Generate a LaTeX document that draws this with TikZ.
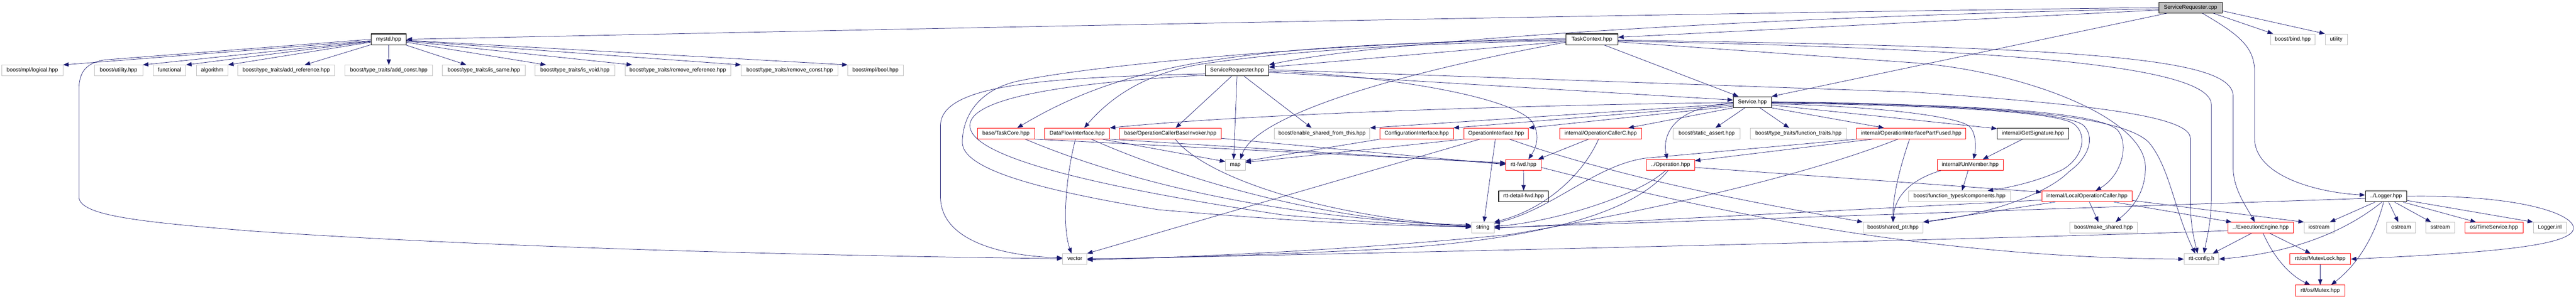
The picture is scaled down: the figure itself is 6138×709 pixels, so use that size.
\documentclass[tikz,border=0pt]{standalone}
\usepackage{fontspec}
\setmainfont{Liberation Sans}
\usetikzlibrary{arrows.meta}
\definecolor{edgec}{HTML}{191970}
\definecolor{grayb}{HTML}{BFBFBF}
\definecolor{redb}{HTML}{FF0000}
\begin{document}
\begin{tikzpicture}[x=1pt,y=-1pt,
 nb/.style={rectangle, minimum height=26pt, inner xsep=0pt, inner ysep=0pt, text height=9.4pt, text depth=2.8pt, font=\fontsize{13pt}{15pt}\selectfont, fill=white},
 gb/.style={nb, draw=grayb, line width=1pt},
 rb/.style={nb, draw=redb, line width=1pt},
 bb/.style={nb, draw=black, line width=1.4pt},
 rootb/.style={bb, fill=grayb},
 conn/.style={draw=edgec, line width=0.9pt, -{Triangle[length=13pt,width=10pt]}}]
\fill[white] (0,0) rectangle (6138,709);
\useasboundingbox (0,0) rectangle (6138,709);
% Row A
\node[rootb, minimum width=151pt] (src) at (5219.5,18) {ServiceRequester.cpp};
% Row B
\node[bb, minimum width=84pt] (mystd) at (926,94) {mystd.hpp};
\node[bb, minimum width=124pt] (tc) at (3793,94) {TaskContext.hpp};
\node[gb, minimum width=106pt] (bind) at (5463,94) {boost/bind.hpp};
\node[gb, minimum width=53pt] (utility) at (5566.5,94) {utility};
% Row C
\node[gb, minimum width=146pt] (logical) at (77,168.5) {boost/mpl/logical.hpp};
\node[gb, minimum width=115pt] (butil) at (282.5,168.5) {boost/utility.hpp};
\node[gb, minimum width=78pt] (functional) at (404,168.5) {functional};
\node[gb, minimum width=75pt] (algorithm) at (505.5,168.5) {algorithm};
\node[gb, minimum width=230pt] (addref) at (682,168.5) {boost/type\_traits/add\_reference.hpp};
\node[gb, minimum width=209pt] (addconst) at (926.5,168.5) {boost/type\_traits/add\_const.hpp};
\node[gb, minimum width=198pt] (issame) at (1153,168.5) {boost/type\_traits/is\_same.hpp};
\node[gb, minimum width=190pt] (isvoid) at (1370,168.5) {boost/type\_traits/is\_void.hpp};
\node[gb, minimum width=252pt] (remref) at (1615,168.5) {boost/type\_traits/remove\_reference.hpp};
\node[gb, minimum width=231pt] (remconst) at (1881.5,168.5) {boost/type\_traits/remove\_const.hpp};
\node[gb, minimum width=132pt] (mplbool) at (2086,168.5) {boost/mpl/bool.hpp};
\node[bb, minimum width=151pt] (sreqh) at (2947.5,168.5) {ServiceRequester.hpp};
% Row D
\node[bb, minimum width=91pt] (service) at (4175.5,244) {Service.hpp};
% Row E
\node[rb, minimum width=136pt] (taskcore) at (2397,319) {base/TaskCore.hpp};
\node[rb, minimum width=155pt] (dfi) at (2566.5,319) {DataFlowInterface.hpp};
\node[rb, minimum width=243pt] (ocbi) at (2788.5,319) {base/OperationCallerBaseInvoker.hpp};
\node[gb, minimum width=228pt] (esft) at (3150,319) {boost/enable\_shared\_from\_this.hpp};
\node[rb, minimum width=175pt] (confi) at (3375.5,319) {ConfigurationInterface.hpp};
\node[rb, minimum width=154pt] (opi) at (3565,319) {OperationInterface.hpp};
\node[rb, minimum width=194pt] (occ) at (3814,319) {internal/OperationCallerC.hpp};
\node[gb, minimum width=159pt] (sassert) at (4066.5,319) {boost/static\_assert.hpp};
\node[gb, minimum width=230pt] (ftraits) at (4285,319) {boost/type\_traits/function\_traits.hpp};
\node[rb, minimum width=260pt] (oipf) at (4554,319) {internal/OperationInterfacePartFused.hpp};
\node[bb, minimum width=170pt] (getsig) at (4844,319) {internal/GetSignature.hpp};
% Row F
\node[gb, minimum width=47pt] (map) at (2943.5,394) {map};
\node[rb, minimum width=84pt] (rttfwd) at (3630,394) {rtt-fwd.hpp};
\node[rb, minimum width=115pt] (operation) at (3980.5,394) {../Operation.hpp};
\node[rb, minimum width=157pt] (unmember) at (4694.5,394) {internal/UnMember.hpp};
% Row G
\node[bb, minimum width=119pt] (detailfwd) at (3630.5,469) {rtt-detail-fwd.hpp};
\node[gb, minimum width=242pt] (ftcomp) at (4669,469) {boost/function\_types/components.hpp};
\node[rb, minimum width=215pt] (loc) at (4972.5,469) {internal/LocalOperationCaller.hpp};
\node[bb, minimum width=99pt] (logger) at (5685.5,469) {../Logger.hpp};
% Row H
\node[gb, minimum width=54pt] (string) at (3533,544) {string};
\node[gb, minimum width=143pt] (sptr) at (4510.5,544) {boost/shared\_ptr.hpp};
\node[gb, minimum width=160pt] (mkshared) at (5012,544) {boost/make\_shared.hpp};
\node[rb, minimum width=157pt] (ee) at (5386.5,544) {../ExecutionEngine.hpp};
\node[gb, minimum width=71pt] (iostream) at (5525.5,544) {iostream};
\node[gb, minimum width=69pt] (ostream) at (5721.5,544) {ostream};
\node[gb, minimum width=69pt] (sstream) at (5814.5,544) {sstream};
\node[rb, minimum width=139pt] (timesvc) at (5942.5,544) {os/TimeService.hpp};
\node[gb, minimum width=79pt] (loggerinl) at (6075.5,544) {Logger.inl};
% Row I
\node[gb, minimum width=58pt] (vector) at (2561,619) {vector};
\node[gb, minimum width=83pt] (rttconfig) at (5245.5,619) {rtt-config.h};
\node[rb, minimum width=145pt] (mutexlock) at (5528.5,619) {rtt/os/MutexLock.hpp};
% Row J
\node[rb, minimum width=117pt] (mutex) at (5528.5,694) {rtt/os/Mutex.hpp};

% ---- mystd
\draw[conn] (mystd) -- (logical.north east);
\draw[conn] (mystd) -- (butil.north east);
\draw[conn] (mystd) -- (functional.north east);
\draw[conn] (mystd) -- (algorithm.north east);
\draw[conn] (mystd) -- ([xshift=44pt]addref.north);
\draw[conn] (mystd) -- (addconst.north);
\draw[conn] (mystd) -- ([xshift=-42pt]issame.north);
\draw[conn] (mystd) -- ([xshift=-69pt]isvoid.north);
\draw[conn] (mystd) -- ([xshift=-109pt]remref.north);
\draw[conn] (mystd) -- (remconst.north west);
\draw[conn] (mystd) -- (mplbool.north west);
\draw[conn] (mystd.west) -- (250,143) .. controls (205,150) and (188,172) .. (188,215) -- (188,470) .. controls (188,515) and (330,530) .. (600,552) .. controls (1300,600) and (2200,614) .. ([yshift=1pt]vector.west);

% ---- src
\draw[conn] (src.west) .. controls (4000,32) and (2500,62) .. (mystd.east);
\draw[conn] ([yshift=-6pt]src.west) -- ([yshift=5pt]tc.east);
\draw[conn] ([yshift=-3pt]src.west) .. controls (4200,40) and (3300,95) .. (sreqh.north east);
\draw[conn] ([xshift=20pt]src.south west) -- (service.north east);
\draw[conn] ([xshift=-22pt]src.south east) -- ([xshift=-47pt]bind.north);
\draw[conn] ([yshift=-8pt]src.east) -- (utility.north west);
\draw[conn] ([xshift=-48pt]src.south east) .. controls (5330,80) and (5372,110) .. (5372,170) -- (5372,330) .. controls (5372,420) and (5520,460) .. ([yshift=3pt]logger.west);

% ---- tc
\draw[conn] ([yshift=-5pt]tc.west) -- ([yshift=8pt]sreqh.east);
\draw[conn] ([xshift=-33pt]tc.south east) -- ([xshift=13pt]service.north west);
\draw[conn] ([yshift=-1pt]tc.west) .. controls (3000,105) and (2700,140) .. ([xshift=27pt]taskcore.north);
\draw[conn] ([yshift=-3pt]tc.west) .. controls (3300,105) and (3060,125) .. (2870,152) .. controls (2720,175) and (2640,240) .. ([xshift=17pt]dfi.north);
\draw[conn] ([yshift=-7pt]tc.west) .. controls (3300,180) and (2990,280) .. ([xshift=12pt]map.north);
\draw[conn] ([yshift=2pt]tc.west) .. controls (3200,100) and (2600,155) .. (2420,195) .. controls (2320,220) and (2293,290) .. (2293,340) .. controls (2293,400) and (2450,450) .. (2760,501) .. controls (3100,530) and (3300,540) .. ([yshift=3pt]string.west);
\draw[conn] ([yshift=-2pt]tc.east) .. controls (5000,112) and (5321,140) .. (5321,230) -- (5321,400) .. controls (5321,450) and (5350,490) .. ([xshift=-14pt]ee.north);
\draw[conn] ([yshift=-4pt]tc.east) .. controls (4700,115) and (5269,150) .. (5269,250) -- (5269,475) .. controls (5269,530) and (5258,570) .. ([xshift=6pt]rttconfig.north);
\draw[conn] ([yshift=-6pt]tc.east) -- (4560,150) .. controls (4820,170) and (5112,280) .. (5112,400) .. controls (5112,470) and (5070,505) .. ([xshift=29pt]mkshared.north);

% ---- sreqh
\draw[conn] ([xshift=-13pt]sreqh.south) -- ([xshift=13pt]ocbi.north);
\draw[conn] (sreqh.south) -- ([xshift=-4pt]map.north);
\draw[conn] ([xshift=17pt]sreqh.south) -- ([xshift=-25pt]esft.north);
\draw[conn] ([yshift=-1pt]sreqh.east) .. controls (3300,180) and (3600,230) .. (3650,290) .. controls (3670,320) and (3662,350) .. ([xshift=12pt]rttfwd.north);
\draw[conn] ([yshift=-4pt]sreqh.east) -- ([yshift=5pt]service.west);
\draw[conn] ([yshift=2pt]sreqh.east) -- (4560,220) .. controls (4900,245) and (5219,270) .. (5219,330) -- (5219,480) .. controls (5219,540) and (5230,580) .. ([xshift=-9pt]rttconfig.north);
\draw[conn] ([yshift=-8pt]sreqh.west) .. controls (2500,185) and (2241,200) .. (2241,300) -- (2241,470) .. controls (2241,580) and (2400,612) .. ([yshift=3pt]vector.west);
\draw[conn] ([yshift=-11pt]sreqh.west) .. controls (2500,200) and (2311,240) .. (2311,300) .. controls (2311,360) and (2500,430) .. (3060,514) .. controls (3300,535) and (3450,540) .. ([yshift=1pt]string.west);

% ---- service
\draw[conn] ([yshift=-1pt]service.west) .. controls (3700,250) and (3000,270) .. (dfi.north east);
\draw[conn] ([yshift=-4pt]service.west) -- (esft.north east);
\draw[conn] ([yshift=-7pt]service.west) -- (confi.north east);
\draw[conn] ([yshift=-10pt]service.west) -- (opi.north east);
\draw[conn] (service.south west) -- ([xshift=66pt]occ.north);
\draw[conn] ([yshift=-2pt]service.west) .. controls (3990,255) and (3960,320) .. ([xshift=-8pt]operation.north);
\draw[conn] ([xshift=-18pt]service.south) -- ([xshift=21pt]sassert.north);
\draw[conn] ([xshift=18pt]service.south) -- ([xshift=-22pt]ftraits.north);
\draw[conn] (service.south east) -- ([xshift=-65pt]oipf.north);
\draw[conn] ([yshift=-7pt]service.east) -- ([yshift=-2pt]getsig.north west);
\draw[conn] ([yshift=-4pt]service.east) .. controls (4500,255) and (4660,280) .. (4690,300) .. controls (4710,315) and (4708,355) .. ([xshift=8pt]unmember.north);
\draw[conn] ([yshift=-2pt]service.east) .. controls (4600,252) and (4890,265) .. (4940,295) .. controls (4975,320) and (4965,375) .. (4915,405) .. controls (4860,432) and (4790,448) .. ([xshift=67pt]ftcomp.north);
\draw[conn] ([yshift=-1pt]service.east) .. controls (4650,250) and (4930,268) .. (4965,300) .. controls (4990,325) and (4982,372) .. (4930,410) .. controls (4870,470) and (4720,515) .. (sptr.north east);
\draw[conn] (service.east) .. controls (4750,250) and (5000,270) .. (5045,310) .. controls (5075,345) and (5055,420) .. ([xshift=21pt]loc.north);
\draw[conn] ([yshift=1pt]service.east) .. controls (4800,250) and (5060,280) .. (5120,340) .. controls (5170,400) and (5180,500) .. ([xshift=-15pt]rttconfig.north);

% ---- taskcore
\draw[conn] (taskcore.south east) -- ([yshift=5pt]rttfwd.west);
\draw[conn] ([xshift=46pt]taskcore.south) .. controls (2650,420) and (3000,520) .. ([yshift=6pt]string.west);

% ---- dfi
\draw[conn] ([xshift=60pt]dfi.south) -- ([yshift=8pt]map.west);
\draw[conn] (dfi.south east) -- ([yshift=3pt]rttfwd.west);
\draw[conn] ([xshift=-4pt]dfi.south) .. controls (2540,420) and (2530,540) .. ([xshift=-8pt]vector.north);
\draw[conn] ([xshift=34pt]dfi.south) .. controls (2750,400) and (3100,525) .. ([yshift=4pt]string.west);

% ---- ocbi
\draw[conn] ([yshift=2pt]ocbi.south east) -- ([yshift=1pt]rttfwd.west);
\draw[conn] ([xshift=12pt]ocbi.south) .. controls (2860,410) and (3100,510) .. ([yshift=2pt]string.west);

% ---- confi, opi
\draw[conn] (confi.south west) -- ([yshift=9pt]map.east);
\draw[conn] (opi.south west) -- ([yshift=6pt]map.east);
\draw[conn] ([xshift=-2pt]opi.south) -- ([xshift=3pt]string.north);
\draw[conn] ([xshift=-39pt]opi.south) -- (vector.north east);
\draw[conn] ([xshift=32pt]opi.south) .. controls (3900,440) and (4300,505) .. (sptr.north west);

% ---- occ
\draw[conn] ([xshift=-29pt]occ.south) -- ([xshift=35pt]rttfwd.north);
\draw[conn] ([xshift=-5pt]occ.south) .. controls (3770,420) and (3680,500) .. (string.north east);

% ---- rttfwd
\draw[conn] (rttfwd) -- (detailfwd);
\draw[conn] ([yshift=-6pt]rttfwd.east) .. controls (4100,510) and (4600,615) .. (rttconfig.west);

% ---- operation
\draw[conn] ([yshift=-6pt]operation.east) -- ([yshift=10pt]loc.west);
\draw[conn] ([xshift=-12pt]operation.south) .. controls (3900,470) and (3700,530) .. ([yshift=3pt]string.east);
\draw[conn] ([xshift=-6pt]operation.south) .. controls (3900,500) and (3700,570) .. (3300,595) .. controls (3000,610) and (2700,619) .. ([yshift=1pt]vector.east);

% ---- oipf
\draw[conn] ([xshift=-93pt]oipf.south) -- ([yshift=10pt]operation.east);
\draw[conn] (oipf.south west) -- (3920,378) .. controls (3800,395) and (3700,500) .. ([yshift=-3pt]string.north east);
\draw[conn] ([xshift=-32pt]oipf.south) .. controls (4300,420) and (3950,500) .. (3600,560) .. controls (3200,600) and (2800,615) .. ([yshift=-2pt]vector.east);
\draw[conn] ([xshift=-4pt]oipf.south) .. controls (4520,420) and (4510,480) .. (sptr.north);

% ---- getsig, unmember
\draw[conn] ([xshift=-25pt]getsig.south) -- ([xshift=30pt]unmember.north);
\draw[conn] ([xshift=-5pt]unmember.south) -- ([xshift=6pt]ftcomp.north);
\draw[conn] ([xshift=-70pt]unmember.south) .. controls (4550,430) and (4515,470) .. (sptr.north);

% ---- loc
\draw[conn] ([xshift=6pt]loc.south) -- ([xshift=-12pt]mkshared.north);
\draw[conn] ([xshift=64pt]loc.south) -- ([xshift=10pt]ee.north west);
\draw[conn] ([xshift=-75pt]loc.south) -- (sptr.north east);
\draw[conn] ([yshift=-9pt]loc.west) -- ([yshift=-1pt]string.east);
\draw[conn] ([yshift=-10pt]loc.east) -- (iostream.north west);

% ---- ee
\draw[conn] ([yshift=-7pt]ee.west) .. controls (5100,560) and (4000,590) .. (vector.east);
\draw[conn] ([xshift=-22pt]ee.south) -- ([xshift=27pt]rttconfig.north);
\draw[conn] ([xshift=22pt]ee.south) -- ([xshift=-23pt]mutexlock.north);
\draw[conn] ([xshift=6pt]ee.south) .. controls (5420,620) and (5460,660) .. ([xshift=-24pt]mutex.north);
\draw[conn] (mutexlock) -- (mutex);

% ---- logger
\draw[conn] ([xshift=-26pt]logger.south) -- ([xshift=26pt]iostream.north);
\draw[conn] ([xshift=6pt]logger.south) -- ([xshift=-7pt]ostream.north);
\draw[conn] ([xshift=20pt]logger.south) -- ([xshift=-22pt]sstream.north);
\draw[conn] ([xshift=40pt]logger.south) -- ([xshift=-43pt]timesvc.north);
\draw[conn] ([yshift=-10pt]logger.east) -- (loggerinl.north west);
\draw[conn] ([xshift=-6pt]logger.south) .. controls (5660,560) and (5620,630) .. ([xshift=26pt]mutex.north);
\draw[conn] (logger.east) .. controls (6000,465) and (6132,510) .. (6132,545) .. controls (6132,590) and (5900,605) .. (mutexlock.east);
\draw[conn] ([yshift=-5pt]logger.west) -- (string.east);
\draw[conn] ([xshift=-10pt]logger.south) .. controls (5580,560) and (5450,605) .. (rttconfig.east);
\end{tikzpicture}
\end{document}
